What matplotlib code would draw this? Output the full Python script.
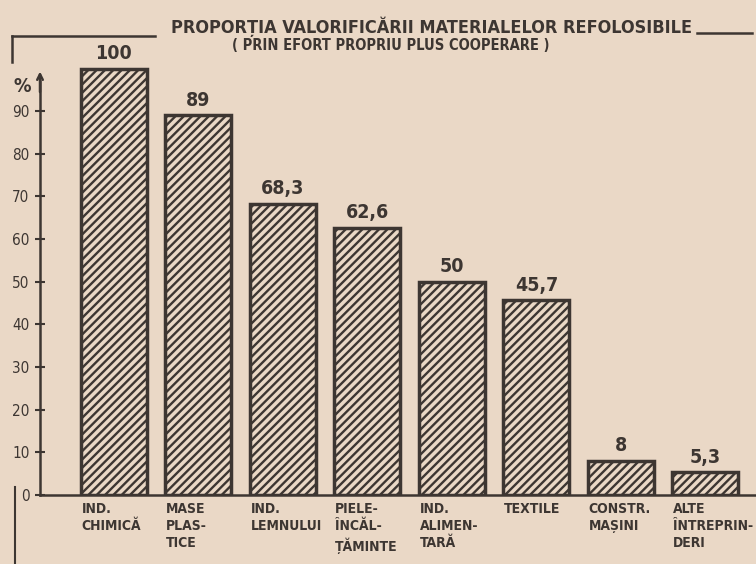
import matplotlib.pyplot as plt
import numpy as np
from matplotlib.lines import Line2D

categories = ["IND.\nCHIMICĂ", "MASE\nPLAS-\nTICE", "IND.\nLEMNULUI", "PIELE-\nÎNCĂL-\nȚĂMINTE",
              "IND.\nALIMEN-\nTARĂ", "TEXTILE", "CONSTR.\nMAȘINI", "ALTE\nÎNTREPRIN-\nDERI"]
values = [100, 89, 68.3, 62.6, 50, 45.7, 8, 5.3]
value_labels = ["100", "89", "68,3", "62,6", "50", "45,7", "8", "5,3"]
yticks = [0, 10, 20, 30, 40, 50, 60, 70, 80, 90]

bg = "#ead8c6"
ink = "#3d3632"
plt.rcParams['font.family'] = ['DejaVu Sans']
plt.rcParams['font.stretch'] = 'condensed'
plt.rcParams['hatch.linewidth'] = 1.7
plt.rcParams['hatch.color'] = ink

fig = plt.figure(figsize=(7.56, 5.64), dpi=100, facecolor=bg)
ax = fig.add_axes([40 / 756, 1 - 495 / 564, 716 / 756, 435 / 564])
ax.set_facecolor(bg)

x = np.arange(len(values))
ax.bar(x, values, width=0.78, facecolor=bg, edgecolor=ink, linewidth=2.5, hatch='////')

for xi, v, lab in zip(x, values, value_labels):
    ax.text(xi, v + 1.3, lab, ha='center', va='bottom', fontsize=14, fontweight='bold',
            color=ink, fontstretch='condensed')

# category labels sit left-aligned under each bar
for xi, cat in zip(x, categories):
    ax.text(xi - 0.38, -1.6, cat, ha='left', va='top', fontsize=10, fontweight='bold',
            color=ink, linespacing=1.3, fontstretch='condensed')

ax.set_xlim(-0.875, 7.6)
ax.set_ylim(0, 102)
ax.set_xticks([])
ax.set_yticks(yticks)
ax.set_yticklabels([str(t) for t in yticks], fontsize=11, color=ink)
ax.tick_params(axis='y', direction='inout', length=7, width=1.5, color=ink, pad=4)
for s in ['top', 'right']:
    ax.spines[s].set_visible(False)
ax.spines['left'].set_color(ink)
ax.spines['bottom'].set_color(ink)
ax.spines['left'].set_linewidth(1.8)
ax.spines['bottom'].set_linewidth(1.8)
ax.spines['left'].set_bounds(0, 97)
ax.annotate('', xy=(0, 0.98), xycoords='axes fraction', xytext=(0, 0.92),
            arrowprops=dict(arrowstyle='->', color=ink, lw=1.8))
fig.text(22 / 756, 1 - 86 / 564, "%", fontsize=14, fontweight='bold', color=ink,
         ha='center', va='center')

fig.text(432 / 756, 1 - 27 / 564, "PROPORȚIA VALORIFICĂRII MATERIALELOR REFOLOSIBILE",
         ha='center', va='center', fontsize=13, fontweight='bold', color=ink,
         fontstretch='condensed')
fig.text(391 / 756, 1 - 46 / 564, "( PRIN EFORT PROPRIU PLUS COOPERARE )",
         ha='center', va='center', fontsize=10.5, fontweight='bold', color=ink,
         fontstretch='condensed')

# decorative frame lines
fig.add_artist(Line2D([12 / 756, 155 / 756], [1 - 36 / 564, 1 - 36 / 564], color=ink, lw=1.8))
fig.add_artist(Line2D([12 / 756, 12 / 756], [1 - 36 / 564, 1 - 62 / 564], color=ink, lw=1.8))
fig.add_artist(Line2D([697 / 756, 752 / 756], [1 - 33 / 564, 1 - 33 / 564], color=ink, lw=1.8))
fig.add_artist(Line2D([15 / 756, 15 / 756], [1 - 487 / 564, 0], color=ink, lw=1.5))

fig.savefig("out.png", dpi=100, facecolor=bg)
